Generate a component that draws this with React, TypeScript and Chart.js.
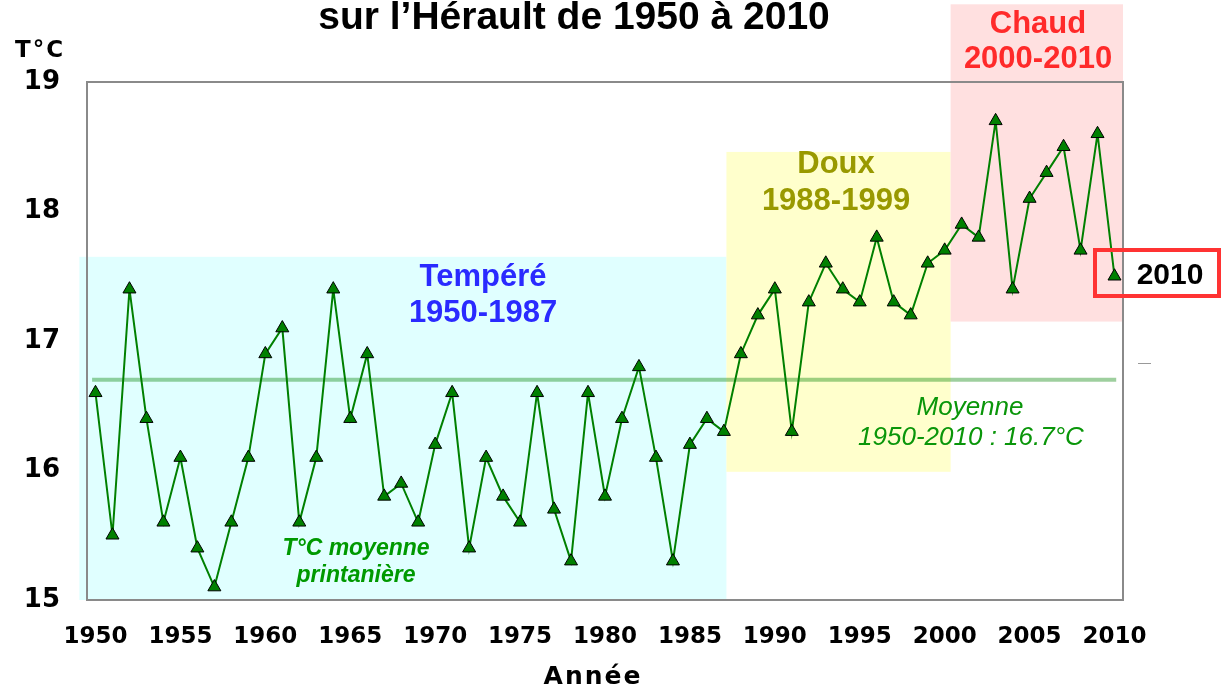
import React, { useEffect, useRef } from "react";
import { Chart, registerables } from "chart.js";

Chart.register(...registerables);

// ---- data ----
const YEARS = [
  1950, 1951, 1952, 1953, 1954, 1955, 1956, 1957, 1958, 1959,
  1960, 1961, 1962, 1963, 1964, 1965, 1966, 1967, 1968, 1969,
  1970, 1971, 1972, 1973, 1974, 1975, 1976, 1977, 1978, 1979,
  1980, 1981, 1982, 1983, 1984, 1985, 1986, 1987, 1988, 1989,
  1990, 1991, 1992, 1993, 1994, 1995, 1996, 1997, 1998, 1999,
  2000, 2001, 2002, 2003, 2004, 2005, 2006, 2007, 2008, 2009, 2010,
];
const TEMPS = [
  16.6, 15.5, 17.4, 16.4, 15.6, 16.1, 15.4, 15.1, 15.6, 16.1,
  16.9, 17.1, 15.6, 16.1, 17.4, 16.4, 16.9, 15.8, 15.9, 15.6,
  16.2, 16.6, 15.4, 16.1, 15.8, 15.6, 16.6, 15.7, 15.3, 16.6,
  15.8, 16.4, 16.8, 16.1, 15.3, 16.2, 16.4, 16.3, 16.9, 17.2,
  17.4, 16.3, 17.3, 17.6, 17.4, 17.3, 17.8, 17.3, 17.2, 17.6,
  17.7, 17.9, 17.8, 18.7, 17.4, 18.1, 18.3, 18.5, 17.7, 18.6, 17.5,
];
const MEAN_VALUE = 16.7;
const MEAN_SPAN = [1949.8, 2010.1];
const X_TICKS = [1950, 1955, 1960, 1965, 1970, 1975, 1980, 1985, 1990, 1995, 2000, 2005, 2010];
const Y_TICKS = [15, 16, 17, 18, 19];

// period zones (data units)
const ZONES = [
  { x0: 1949.05, x1: 1987.15, y0: 15.0, y1: 17.65, color: "#e0ffff" },
  { x0: 1987.15, x1: 2000.35, y0: 15.99, y1: 18.46, color: "#ffffcc" },
  { x0: 2000.35, x1: 2010.5, y0: 17.15, y1: 19.6, color: "#ffe0e0" },
];

const TITLE = "sur l\u2019Hérault de 1950 à 2010";

const W = 1229;
const H = 687;

const decoPlugin = {
  id: "deco",
  beforeDraw(chart: any) {
    const { ctx, scales } = chart;
    const x = scales.x;
    const y = scales.y;
    ctx.save();
    for (const z of ZONES) {
      const px0 = x.getPixelForValue(z.x0);
      const px1 = x.getPixelForValue(z.x1);
      const py0 = y.getPixelForValue(z.y1);
      const py1 = y.getPixelForValue(z.y0);
      ctx.fillStyle = z.color;
      ctx.fillRect(px0, py0, px1 - px0, py1 - py0);
    }
    ctx.restore();
  },
  beforeDatasetsDraw(chart: any) {
    const { ctx, chartArea } = chart;
    ctx.save();
    ctx.strokeStyle = "#8a8a8a";
    ctx.lineWidth = 2;
    ctx.strokeRect(chartArea.left, chartArea.top, chartArea.right - chartArea.left, chartArea.bottom - chartArea.top);
    ctx.restore();
  },
  afterDraw(chart: any) {
    const { ctx } = chart;
    ctx.save();
    ctx.textAlign = "center";
    ctx.textBaseline = "middle";
    const txt = (s: string, x: number, y: number, font: string, color: string, ls = "0px") => {
      ctx.font = font;
      ctx.fillStyle = color;
      (ctx as any).letterSpacing = ls;
      ctx.fillText(s, x, y);
    };
    // title (top clipped in original)
    ctx.textBaseline = "alphabetic";
    txt(TITLE, 574, 29, "bold 39px 'Liberation Sans', Arial, sans-serif", "#000");
    ctx.textBaseline = "middle";
    // axis labels
    txt("T°C", 40, 51, "bold 23px 'DejaVu Sans', sans-serif", "#000", "2px");
    txt("Année", 593, 677, "bold 25px 'DejaVu Sans', sans-serif", "#000", "2px");
    // zone labels
    const zf = "bold 31px 'Liberation Sans', Arial, sans-serif";
    txt("Tempéré", 483, 277, zf, "#2a2aff");
    txt("1950-1987", 483, 313, zf, "#2a2aff");
    txt("Doux", 836, 164, zf, "#999900");
    txt("1988-1999", 836, 201, zf, "#999900");
    txt("Chaud", 1038, 24, zf, "#ff2a2a");
    txt("2000-2010", 1038, 59, zf, "#ff2a2a");
    // mean label
    const mf = "italic 26px 'Liberation Sans', Arial, sans-serif";
    txt("Moyenne", 970, 408, mf, "#0a960a");
    txt("1950-2010 : 16.7°C", 971, 438, mf, "#0a960a");
    // series label
    const sf = "italic bold 23px 'Liberation Sans', Arial, sans-serif";
    txt("T°C moyenne", 356, 549, sf, "#009900");
    txt("printanière", 356, 576, sf, "#009900");
    // 2010 highlight box
    ctx.strokeStyle = "#ff3333";
    ctx.lineWidth = 4;
    ctx.strokeRect(1095, 250, 124, 46);
    txt("2010", 1170, 276, "bold 30px 'Liberation Sans', Arial, sans-serif", "#000");
    // small stray dash
    ctx.strokeStyle = "#999";
    ctx.lineWidth = 1;
    ctx.beginPath();
    ctx.moveTo(1138, 363.5);
    ctx.lineTo(1151, 363.5);
    ctx.stroke();
    ctx.restore();
  },
};

export default function App() {
  const ref = useRef<HTMLCanvasElement | null>(null);
  useEffect(() => {
    if (!ref.current) return;
    const chart = new Chart(ref.current, {
      type: "line",
      data: {
        datasets: [
          {
            label: "T°C moyenne printanière",
            data: YEARS.map((yr, i) => ({ x: yr, y: TEMPS[i] })),
            borderColor: "#008000",
            borderWidth: 2,
            backgroundColor: "#008000",
            pointStyle: "triangle",
            pointRadius: 7.5,
            pointBackgroundColor: "#008000",
            pointBorderColor: "#000000",
            pointBorderWidth: 1,
            tension: 0,
            order: 1,
          },
          {
            label: "Moyenne",
            data: MEAN_SPAN.map((yr) => ({ x: yr, y: MEAN_VALUE })),
            borderColor: "rgba(0,128,0,0.38)",
            borderWidth: 4,
            pointRadius: 0,
            tension: 0,
            order: 2,
          },
        ],
      },
      options: {
        responsive: false,
        animation: false,
        events: [],
        layout: { padding: { top: 82, right: 106, left: 0, bottom: 0 } },
        plugins: {
          legend: { display: false },
          tooltip: { enabled: false },
          title: { display: false },
        },
        scales: {
          x: {
            type: "linear",
            min: 1949.5,
            max: 2010.5,
            grid: { display: false, drawTicks: false },
            border: { display: false },
            afterBuildTicks: (s: any) => {
              s.ticks = X_TICKS.map((v) => ({ value: v }));
            },
            afterFit: (s: any) => {
              s.height = 87;
            },
            ticks: {
              autoSkip: false,
              maxRotation: 0,
              padding: 23,
              color: "#000",
              font: { family: "'DejaVu Sans', sans-serif", size: 23, weight: "bold" },
              callback: (v: any) => String(v),
            },
          },
          y: {
            type: "linear",
            min: 15,
            max: 19,
            grid: { display: false, drawTicks: false },
            border: { display: false },
            afterBuildTicks: (s: any) => {
              s.ticks = Y_TICKS.map((v) => ({ value: v }));
            },
            afterFit: (s: any) => {
              s.width = 87;
            },
            ticks: {
              padding: 27,
              color: "#000",
              font: { family: "'DejaVu Sans', sans-serif", size: 26, weight: "bold" },
              callback: (v: any) => String(v),
            },
          },
        },
      },
      plugins: [decoPlugin],
    } as any);
    return () => chart.destroy();
  }, []);
  return (
    <div style={{ position: "fixed", left: 0, top: 0, width: W, height: H, background: "#fff" }}>
      <canvas ref={ref} width={W} height={H} style={{ display: "block", width: W, height: H }} />
    </div>
  );
}
